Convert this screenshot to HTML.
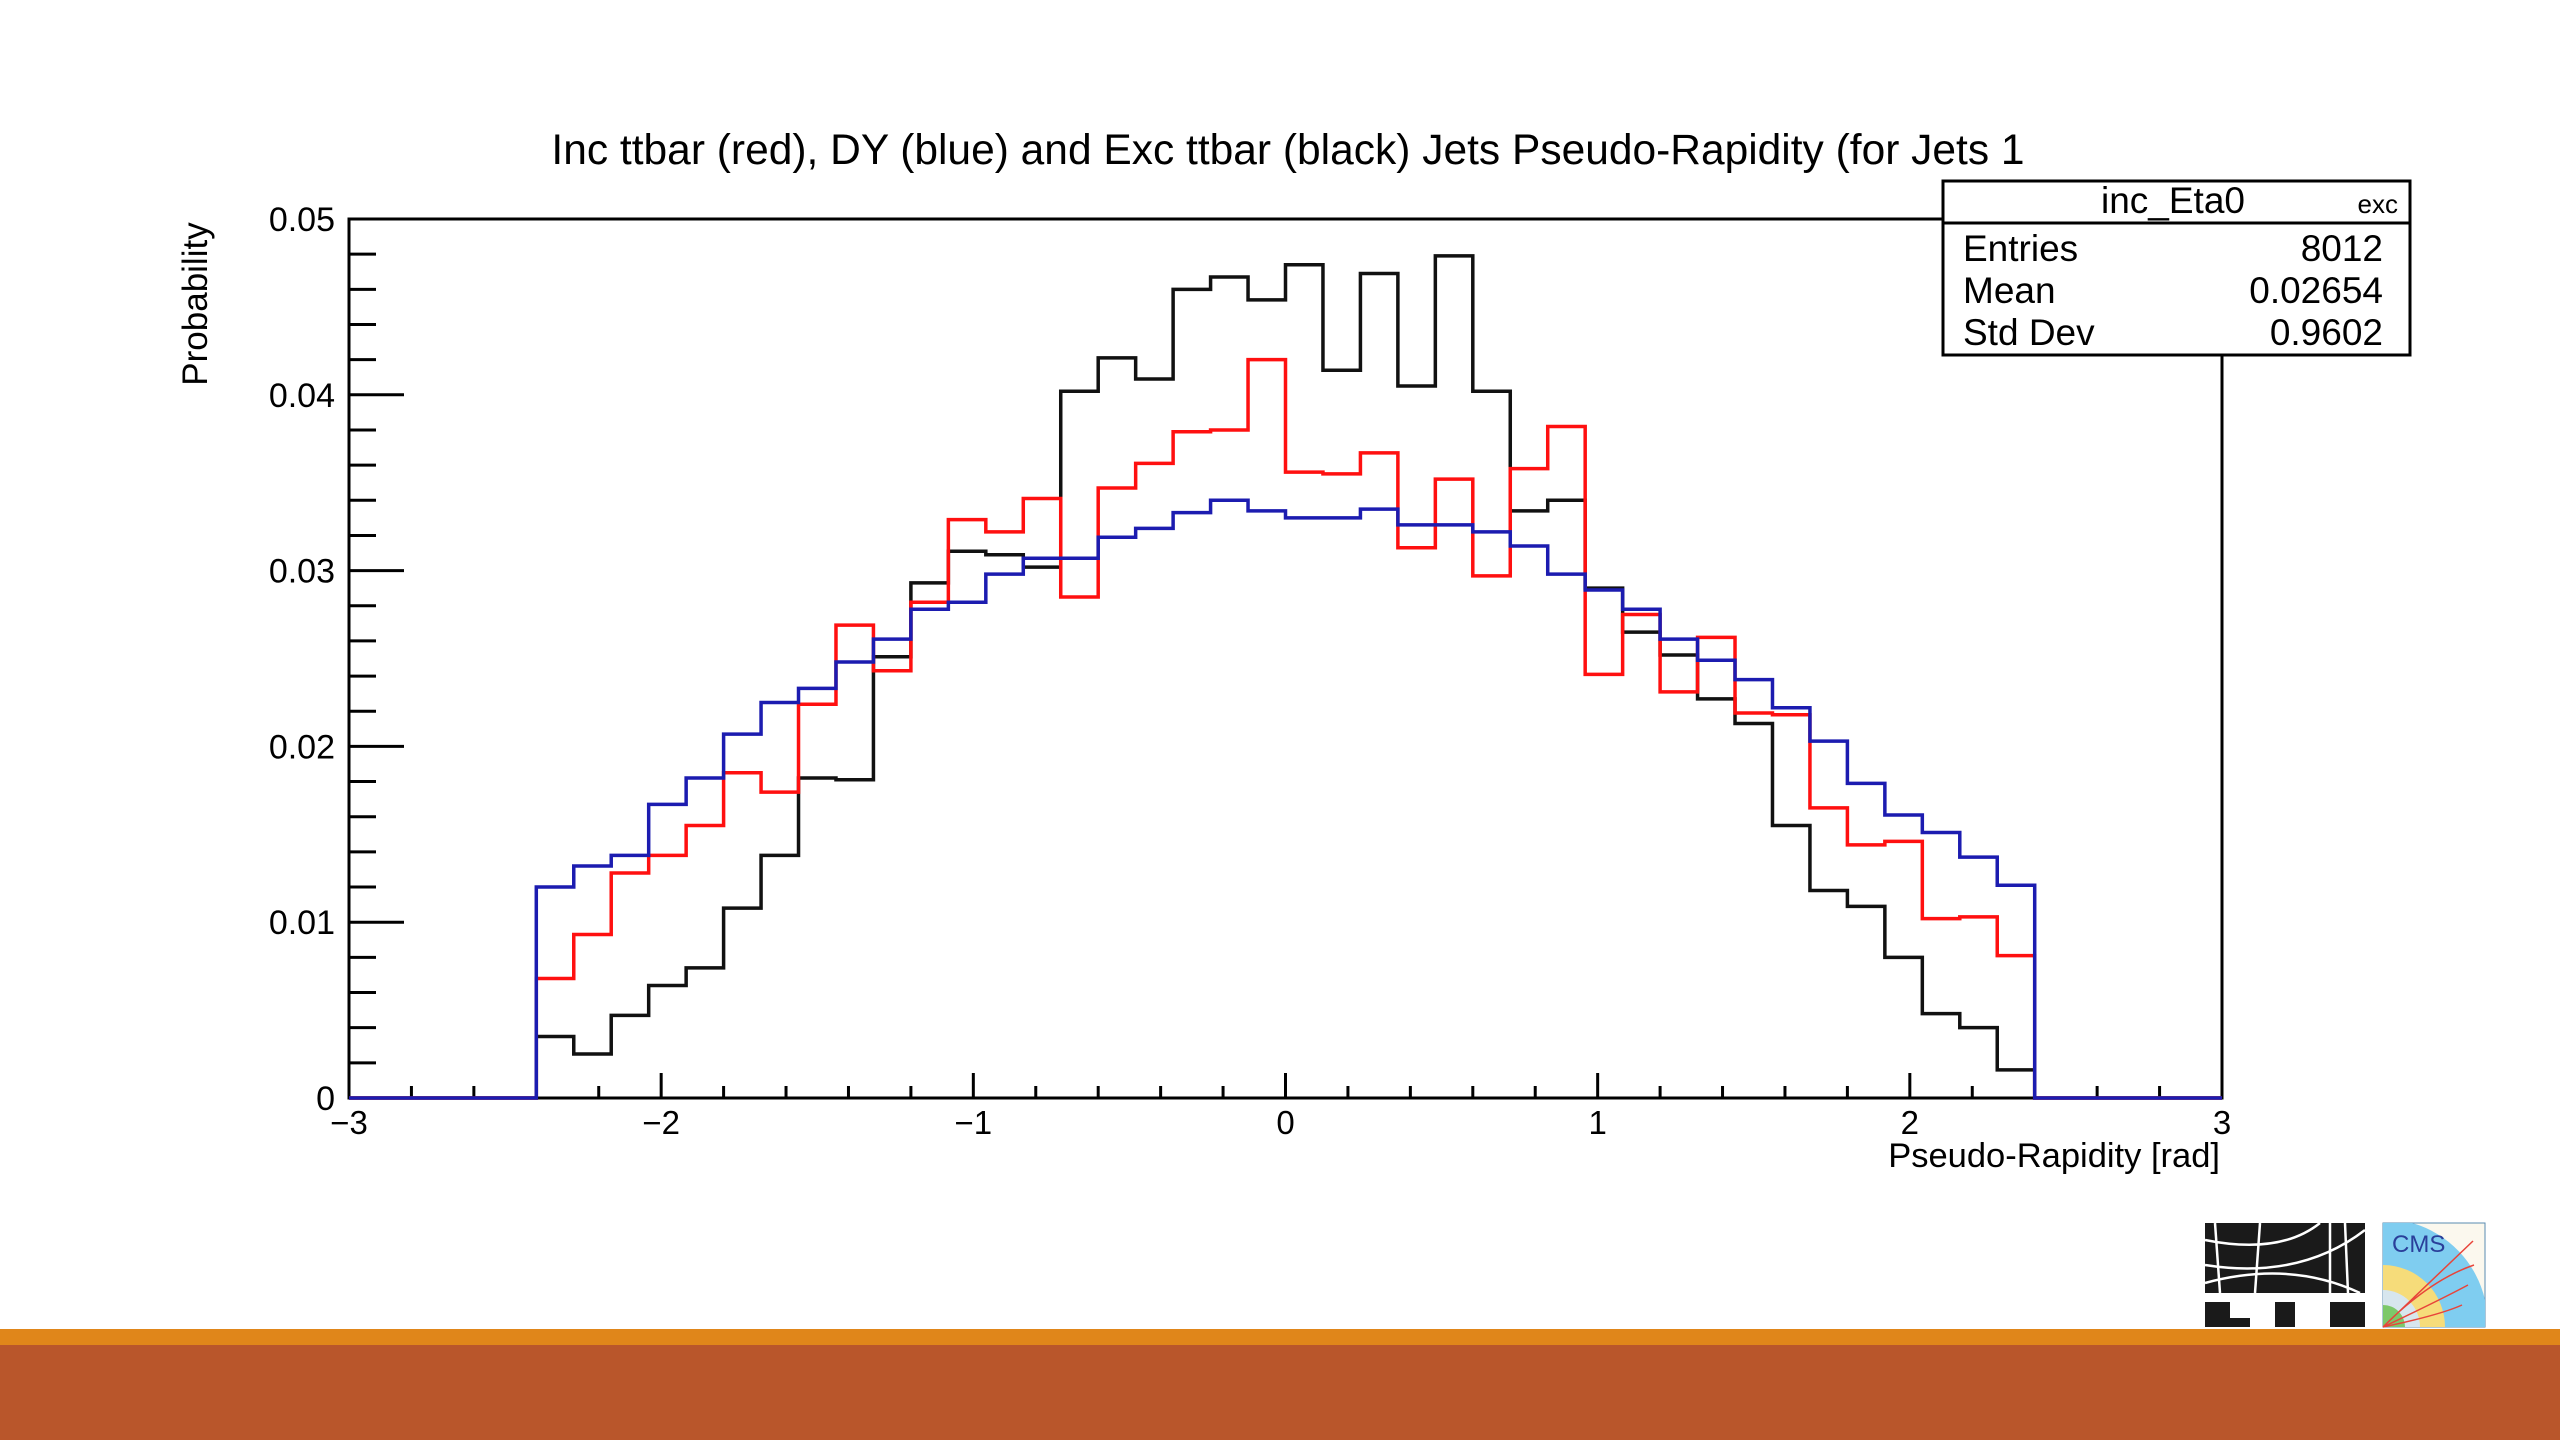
<!DOCTYPE html>
<html><head><meta charset="utf-8"><style>
html,body{margin:0;padding:0;background:#fff;}
#root{position:relative;width:2560px;height:1440px;overflow:hidden;background:#fff;font-family:"Liberation Sans",sans-serif;}
svg text{font-family:"Liberation Sans",sans-serif;}
</style></head><body>
<div id="root">
<svg id="chart" width="2560" height="1440" viewBox="0 0 2560 1440" xmlns="http://www.w3.org/2000/svg">
<text x="1288" y="164" font-size="42.5" text-anchor="middle" fill="#000">Inc ttbar (red), DY (blue) and Exc ttbar (black) Jets Pseudo-Rapidity (for Jets 1</text>
<text transform="translate(207,304) rotate(-90)" font-size="35" text-anchor="middle" fill="#000">Probability</text>
<text x="2220" y="1167" font-size="34.5" text-anchor="end" fill="#000">Pseudo-Rapidity [rad]</text>
<g id="axes"></g>
<g id="series"></g>
<g>
<rect x="1943" y="181" width="467" height="174" fill="#fff" stroke="#000" stroke-width="3"/>
<line x1="1943" y1="223" x2="2410" y2="223" stroke="#000" stroke-width="3"/>
<text x="2173" y="213" font-size="37" text-anchor="middle">inc_Eta0</text>
<text x="2398" y="213" font-size="26" text-anchor="end">exc</text>
<text x="1963" y="261" font-size="37">Entries</text>
<text x="2383" y="261" font-size="37" text-anchor="end">8012</text>
<text x="1963" y="303" font-size="37">Mean</text>
<text x="2383" y="303" font-size="37" text-anchor="end">0.02654</text>
<text x="1963" y="345" font-size="37">Std Dev</text>
<text x="2383" y="345" font-size="37" text-anchor="end">0.9602</text>
</g>
<g>
<rect x="2205" y="1223" width="160" height="70" fill="#1a1a1a"/>
<path d="M2205 1240 Q2280 1255 2320 1223 M2205 1265 Q2300 1280 2365 1230 M2215 1223 L2220 1293 M2260 1223 L2255 1293 M2330 1223 L2330 1293 M2345 1223 L2348 1293 M2205 1283 Q2290 1260 2360 1293" stroke="#fff" stroke-width="2.5" fill="none"/>
<rect x="2205" y="1302" width="25" height="25" fill="#1a1a1a"/><rect x="2205" y="1318" width="45" height="9" fill="#1a1a1a"/>
<rect x="2275" y="1302" width="20" height="25" fill="#1a1a1a"/>
<rect x="2330" y="1302" width="35" height="25" fill="#1a1a1a"/>
</g>
<g>
<rect x="2383" y="1223" width="102" height="104" fill="#fbf8ee" stroke="#5a8bb0" stroke-width="1"/>
<path d="M2383 1223 L2412 1223 A104 104 0 0 1 2485 1300 L2485 1327 L2383 1327Z" fill="#7fcdf0"/>
<path d="M2383 1265 A62 62 0 0 1 2445 1327 L2383 1327Z" fill="#f6dc7a"/>
<path d="M2383 1290 A37 37 0 0 1 2420 1327 L2383 1327Z" fill="#d7e6ee"/>
<path d="M2383 1305 A22 22 0 0 1 2405 1327 L2383 1327Z" fill="#7cc86a"/>
<path d="M2383 1327 L2473 1241 M2383 1327 Q2430 1280 2474 1265 M2383 1327 Q2440 1300 2468 1285 M2383 1327 Q2440 1315 2462 1305" stroke="#e8443a" stroke-width="1.5" fill="none"/>
<text x="2392" y="1252" font-family="Liberation Serif,serif" font-size="24" fill="#2a3f9a">CMS</text>
</g>
<rect x="0" y="1329" width="2560" height="16" fill="#e0861a"/>
<rect x="0" y="1345" width="2560" height="95" fill="#b9562b"/>
</svg>
</div>
<script>
// Bin values for eta bins from -2.4 to 2.4 (width 0.12); outside range is zero
const binLowEdges = [-2.4,-2.28,-2.16,-2.04,-1.92,-1.8,-1.68,-1.56,-1.44,-1.32,-1.2,-1.08,-0.96,-0.84,-0.72,-0.6,-0.48,-0.36,-0.24,-0.12,0,0.12,0.24,0.36,0.48,0.6,0.72,0.84,0.96,1.08,1.2,1.32,1.44,1.56,1.68,1.8,1.92,2.04,2.16,2.28];
const blackExcTtbar = [0.0035,0.0025,0.0047,0.0064,0.0074,0.0108,0.0138,0.0182,0.0181,0.0251,0.0293,0.0311,0.0309,0.0302,0.0402,0.0421,0.0409,0.0460,0.0467,0.0454,0.0474,0.0414,0.0469,0.0405,0.0479,0.0402,0.0334,0.0340,0.0290,0.0265,0.0252,0.0227,0.0213,0.0155,0.0118,0.0109,0.0080,0.0048,0.0040,0.0016];
const redIncTtbar = [0.0068,0.0093,0.0128,0.0138,0.0155,0.0185,0.0174,0.0224,0.0269,0.0243,0.0282,0.0329,0.0322,0.0341,0.0285,0.0347,0.0361,0.0379,0.0380,0.0420,0.0356,0.0355,0.0367,0.0313,0.0352,0.0297,0.0358,0.0382,0.0241,0.0275,0.0231,0.0262,0.0219,0.0218,0.0165,0.0144,0.0146,0.0102,0.0103,0.0081];
const blueDY = [0.0120,0.0132,0.0138,0.0167,0.0182,0.0207,0.0225,0.0233,0.0248,0.0261,0.0278,0.0282,0.0298,0.0307,0.0307,0.0319,0.0324,0.0333,0.0340,0.0334,0.0330,0.0330,0.0335,0.0326,0.0326,0.0322,0.0314,0.0298,0.0289,0.0278,0.0261,0.0249,0.0238,0.0222,0.0203,0.0179,0.0161,0.0151,0.0137,0.0121];
const binWidth = 0.12;
const yTickLabels = ["0","0.01","0.02","0.03","0.04","0.05"];
const xTickLabels = ["−3","−2","−1","0","1","2","3"];

const NS="http://www.w3.org/2000/svg";
const X0=349,X1=2222,Y0=1098,Y1=219;
const xMin=-3,xMax=3,yMin=0,yMax=0.05;
function sx(v){return X0+(v-xMin)/(xMax-xMin)*(X1-X0);}
function sy(v){return Y0-(v-yMin)/(yMax-yMin)*(Y0-Y1);}
function mk(tag,attrs,parent){const e=document.createElementNS(NS,tag);for(const k in attrs)e.setAttribute(k,attrs[k]);parent.appendChild(e);return e;}

const axes=document.getElementById('axes');
const frame=mk('rect',{x:X0,y:Y1,width:X1-X0,height:Y0-Y1,fill:'none',stroke:'#000','stroke-width':3},axes);


for(let i=0;i<=25;i++){
  const v=i*0.002, major=(i%5===0);
  const t=mk('line',{x1:X0,x2:X0+(major?55:27),y1:sy(v),y2:sy(v),stroke:'#000','stroke-width':3},axes);
  
  
  if(major){
    const lab=mk('text',{x:X0-14,y:sy(v)+12,'font-size':34,'text-anchor':'end',fill:'#000'},axes);
    lab.textContent=yTickLabels[i/5];
    
    
  }
}
for(let i=0;i<=30;i++){
  const v=xMin+i*0.2, major=(i%5===0);
  const t=mk('line',{x1:sx(v),x2:sx(v),y1:Y0,y2:Y0-(major?25:12),stroke:'#000','stroke-width':3},axes);
  
  
  if(major){
    const lab=mk('text',{x:sx(v),y:Y0+36,'font-size':33,'text-anchor':'middle',fill:'#000'},axes);
    lab.textContent=xTickLabels[i/5];
    
    
  }
}

const series=document.getElementById('series');
function drawHist(vals,color,name){
  let d='M'+sx(xMin)+' '+sy(0)+' L'+sx(binLowEdges[0])+' '+sy(0);
  for(let i=0;i<vals.length;i++){
    const lo=binLowEdges[i], hi=lo+binWidth;
    d+=' L'+sx(lo)+' '+sy(vals[i])+' L'+sx(hi)+' '+sy(vals[i]);
  }
  const last=binLowEdges[vals.length-1]+binWidth;
  d+=' L'+sx(last)+' '+sy(0)+' L'+sx(xMax)+' '+sy(0);
  const p=mk('path',{d:d,fill:'none',stroke:color,'stroke-width':3.5,'stroke-linejoin':'miter'},series);
  
  
}
drawHist(blackExcTtbar,'#111','exc-ttbar-histogram');
drawHist(redIncTtbar,'#ff1010','inc-ttbar-histogram');
drawHist(blueDY,'#1c1cb0','dy-histogram');
</script>
</body></html>
